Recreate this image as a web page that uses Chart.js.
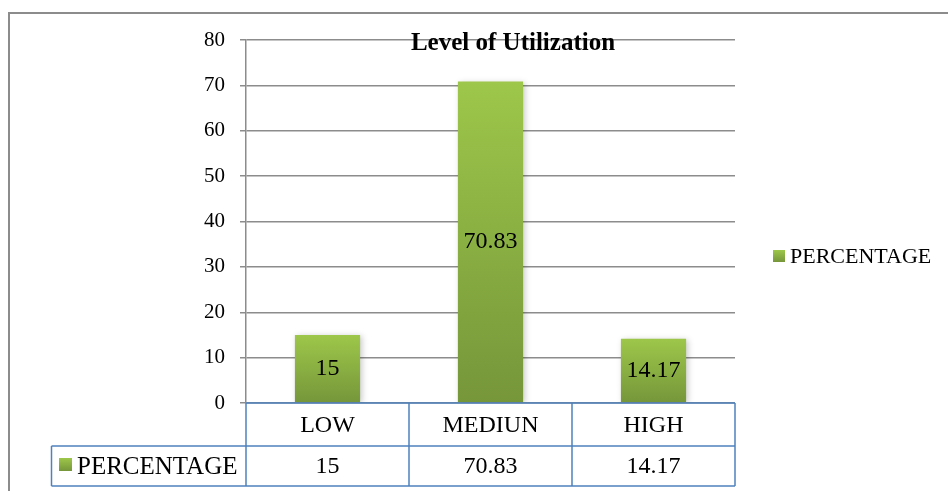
<!DOCTYPE html>
<html>
<head>
<meta charset="utf-8">
<script src="https://cdn.jsdelivr.net/npm/chart.js@4/dist/chart.umd.min.js"></script>
<style>
  body { margin: 0; background: #fff; }
  canvas { display: block; }
</style>
</head>
<body>
<canvas id="graph" width="948" height="491"></canvas>
<script>
const chartTitle = "Level of Utilization";
const seriesName = "PERCENTAGE";
const categories = ["LOW", "MEDIUN", "HIGH"];
const percentage = [15, 70.83, 14.17];
const tableValues = ["15", "70.83", "14.17"];
const yMax = 80;
const yStep = 10;

const serif = "'Liberation Serif', 'Times New Roman', serif";
const gray = "#8c8c8c";
const blue = "#4f81bd";

function barGradient(ctx, top, bottom){
    let g = ctx.createLinearGradient(0, top, 0, bottom);
    g.addColorStop(0, "#9dc74a");
    g.addColorStop(1, "#76963a");
    return g;
}

function legendSwatch(ctx, x, y, size){
    let g = ctx.createLinearGradient(0, y, 0, y + size);
    g.addColorStop(0, "#9dc74a");
    g.addColorStop(1, "#76963a");
    ctx.fillStyle = g;
    ctx.fillRect(x, y, size, size);
}

// shadow under the bars, like the office chart
const shadowPlugin = {
    id: "shadow",
    beforeDatasetsDraw(chart){
        let ctx = chart.ctx;
        ctx.save();
        ctx.shadowColor = "rgba(0,0,0,0.22)";
        ctx.shadowBlur = 6;
        ctx.shadowOffsetX = 2;
        ctx.shadowOffsetY = 1;
    },
    afterDatasetsDraw(chart){
        chart.ctx.restore();
        // value labels in the middle of each bar
        let ctx = chart.ctx;
        let meta = chart.getDatasetMeta(0);
        ctx.save();
        ctx.font = "24px " + serif;
        ctx.fillStyle = "#000";
        ctx.textAlign = "center";
        ctx.textBaseline = "middle";
        meta.data.forEach((bar, i) => {
            ctx.fillText(String(percentage[i]), bar.x, (bar.y + bar.base) / 2);
        });
        ctx.restore();
    }
};

// frame, title, legend and data table
const extrasPlugin = {
    id: "extras",
    afterDraw(chart){
        let ctx = chart.ctx;
        let area = chart.chartArea;
        let xs = chart.scales.x;
        let step = (area.right - area.left) / categories.length;
        let rowTop = area.bottom;
        let rowMid = rowTop + 43;
        let rowBot = rowTop + 83;
        let legLeft = 51.5;

        ctx.save();
        // outer frame
        ctx.strokeStyle = gray;
        ctx.lineWidth = 2;
        ctx.strokeRect(9, 13, 1000, 1000);

        // title
        ctx.font = "bold 25px " + serif;
        ctx.fillStyle = "#000";
        ctx.textAlign = "center";
        ctx.textBaseline = "alphabetic";
        ctx.fillText(chartTitle, 513, 50);

        // legend on the right
        legendSwatch(ctx, 773, 250, 12);
        ctx.font = "22px " + serif;
        ctx.fillStyle = "#000";
        ctx.textAlign = "left";
        ctx.textBaseline = "middle";
        ctx.fillText(seriesName, 790, 257);

        // table lines
        ctx.strokeStyle = blue;
        ctx.lineWidth = 1.5;
        ctx.beginPath();
        ctx.moveTo(area.left, rowTop); ctx.lineTo(area.right, rowTop);
        ctx.moveTo(legLeft, rowMid); ctx.lineTo(area.right, rowMid);
        ctx.moveTo(legLeft, rowBot); ctx.lineTo(area.right, rowBot);
        ctx.moveTo(legLeft, rowMid); ctx.lineTo(legLeft, rowBot);
        for (let c = 0; c <= categories.length; c++){
            let x = area.left + step * c;
            ctx.moveTo(x, rowTop); ctx.lineTo(x, rowBot);
        }
        ctx.stroke();

        // table text
        ctx.font = "24px " + serif;
        ctx.fillStyle = "#000";
        ctx.textAlign = "center";
        categories.forEach((cat, i) => {
            let x = xs.getPixelForValue(i);
            ctx.fillText(cat, x, (rowTop + rowMid) / 2 + 1);
            ctx.fillText(tableValues[i], x, (rowMid + rowBot) / 2 + 1);
        });
        legendSwatch(ctx, 59, 458, 13);
        ctx.font = "25px " + serif;
        ctx.fillStyle = "#000";
        ctx.textAlign = "left";
        ctx.fillText(seriesName, 77, (rowMid + rowBot) / 2 + 1);
        ctx.restore();
    }
};

const ctx = document.getElementById("graph");

new Chart(ctx, {
    type: "bar",
    data: {
        labels: categories,
        datasets: [{
            label: seriesName,
            data: percentage,
            backgroundColor(c){
                let chart = c.chart;
                if (!chart.chartArea || !chart.scales.y) return "#8ab043";
                let y = chart.scales.y;
                let v = c.raw || 0;
                return barGradient(chart.ctx, y.getPixelForValue(v), y.getPixelForValue(0));
            },
            borderWidth: 0,
            barPercentage: 0.4,
            categoryPercentage: 1.0
        }]
    },
    options: {
        responsive: false,
        animation: false,
        layout: { padding: { left: 0, top: 40, right: 213, bottom: 88 } },
        plugins: {
            legend: { display: false },
            title: { display: false },
            tooltip: { enabled: false }
        },
        scales: {
            x: { display: false },
            y: {
                min: 0,
                max: yMax,
                afterFit(scale){ scale.width = 246; },
                ticks: {
                    stepSize: yStep,
                    padding: 15,
                    color: "#000",
                    font: { family: serif, size: 21 }
                },
                grid: { color: gray, lineWidth: 1.5, tickLength: 6 },
                border: { color: gray, width: 1.5 }
            }
        }
    },
    plugins: [shadowPlugin, extrasPlugin]
});
</script>
</body>
</html>
